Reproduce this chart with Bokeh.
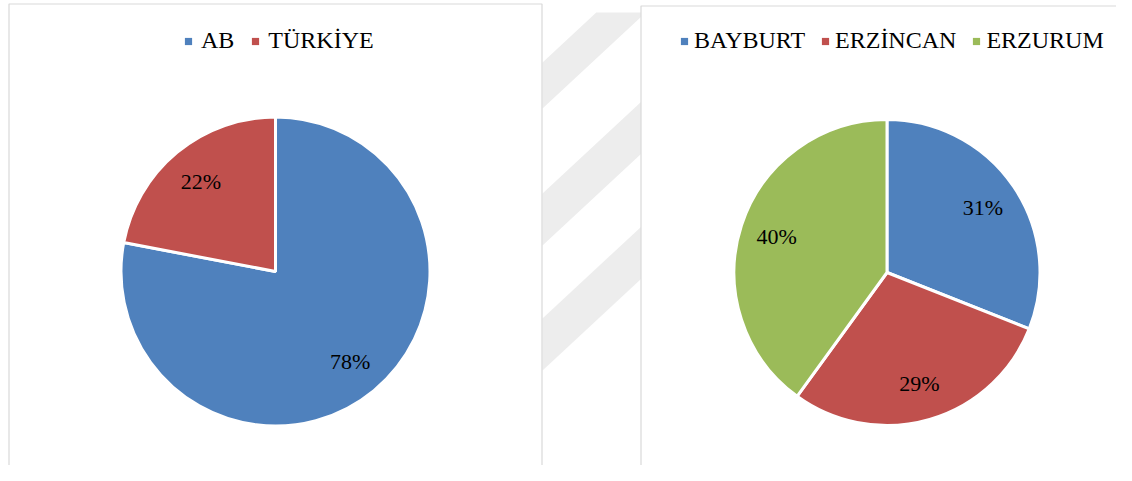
import math
from bokeh.plotting import figure
from bokeh.models import Range1d, Legend, LegendItem, ColumnDataSource
from bokeh.core.properties import value
from bokeh.embed import file_html
from bokeh.resources import INLINE

# ---------------- data ----------------
left_categories = ["AB", "TÜRKİYE"]
left_values = [78, 22]
right_categories = ["BAYBURT", "ERZİNCAN", "ERZURUM"]
right_values = [31, 29, 40]
left_colors = ["#4F81BD", "#C0504D"]
right_colors = ["#4F81BD", "#C0504D", "#9BBB59"]

# ---------------- layout (image pixels) ----------------
W, H = 1116, 465
FONT = "Liberation Serif"


def Y(py):
    # image y (top-down) -> data y (bottom-up)
    return H - py


p = figure(width=W, height=H, x_range=Range1d(0, W), y_range=Range1d(0, H),
           x_axis_type=None, y_axis_type=None, output_backend="svg",
           toolbar_location=None, min_border=0, outline_line_color=None,
           background_fill_color="white", border_fill_color="white")

# faint diagonal watermark stripes between the panels
gx0, gx1, slope = 542, 641, 0.93
bands = [(62, 108), (193, 245), (318, 370)]
xs, ys = [], []
for a, b in bands:
    top_a = a - slope * (gx1 - gx0)
    top_b = b - slope * (gx1 - gx0)
    px = [gx0, gx1, gx1, gx0]
    py = [a, top_a, top_b, b]
    if top_a < 12:
        xcut = gx0 + (a - 12) / slope
        px = [gx0, xcut, gx1, gx1, gx0]
        py = [a, 12, 12, max(top_b, 12), b]
    xs.append(px)
    ys.append([Y(v) for v in py])
p.patches(xs, ys, fill_color="#ededed", line_color=None)

# panel frames (edges beyond the canvas are simply clipped)
panels = [(8.5, 541.5, 3.5), (640.5, 1129.5, 5.5)]
for x0, x1, t in panels:
    p.quad(left=x0, right=x1, top=Y(t), bottom=Y(479.5),
           fill_color="white", line_color="#d9d9d9", line_width=1.2)


def add_pie(cats, vals, colors, cx, cy, r, legend_x, standoff, spacing):
    total = float(sum(vals))
    starts, ends, lx, ly, labels = [], [], [], [], []
    acc = 0.0
    for v in vals:
        s = math.pi / 2 - 2 * math.pi * acc / total
        acc += v
        e = math.pi / 2 - 2 * math.pi * acc / total
        starts.append(s)
        ends.append(e)
        m = (s + e) / 2
        lx.append(cx + 0.765 * r * math.cos(m))
        ly.append(Y(cy) + 0.765 * r * math.sin(m))
        labels.append(f"{v}%")
    src = ColumnDataSource(dict(cat=cats, val=vals, color=colors,
                                start=starts, end=ends, lx=lx, ly=ly, lab=labels))
    p.wedge(x=cx, y=Y(cy), radius=r + 1.5, start_angle="start", end_angle="end",
            direction="clock", fill_color="color", line_color="white",
            line_width=3, source=src)
    p.text(x="lx", y="ly", text="lab", source=src, text_align="center",
           text_baseline="middle", text_font=value(FONT),
           text_font_size="22px", text_color="#000000")
    # legend glyph renderer (no visible points)
    dsrc = ColumnDataSource(dict(x=[float("nan")] * len(cats), y=[float("nan")] * len(cats),
                                 color=colors))
    dr = p.scatter(x="x", y="y", marker="square", fill_color="color",
                   line_color=None, size=7, source=dsrc)
    items = [LegendItem(label=value(c), renderers=[dr], index=i) for i, c in enumerate(cats)]
    leg = Legend(items=items, location=(legend_x, H - 54),
                 orientation="horizontal", glyph_width=18, glyph_height=26,
                 label_height=26, label_standoff=standoff, spacing=spacing,
                 padding=0, margin=0, border_line_color=None,
                 background_fill_alpha=0, label_text_font=FONT,
                 label_text_font_size="24px", label_text_color="#000000",
                 label_text_baseline="middle")
    p.add_layout(leg, "center")


add_pie(left_categories, left_values, left_colors, 275, 271, 153, 179, 4, 12)
add_pie(right_categories, right_values, right_colors, 886.5, 272, 151.5, 675, 1, 11)

open("out.html", "w").write(file_html(p, INLINE))
